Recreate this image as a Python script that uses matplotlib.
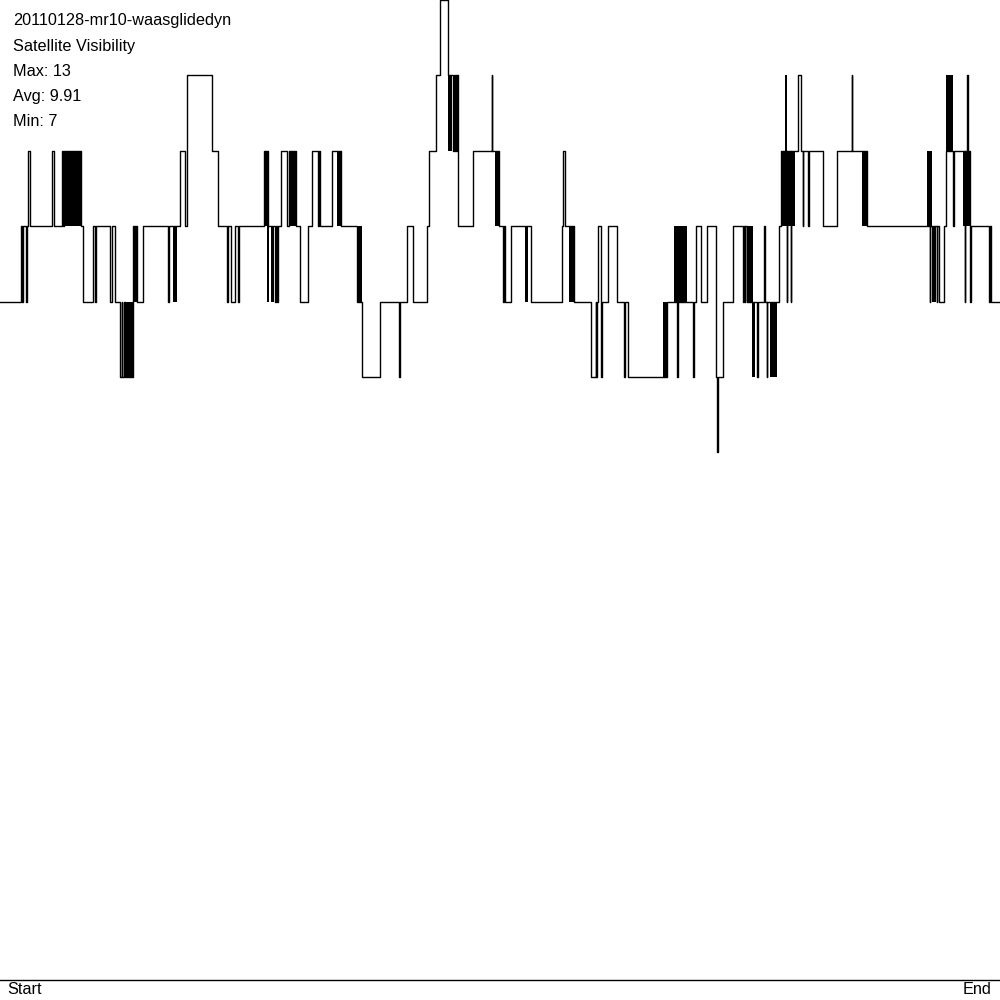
import matplotlib
matplotlib.use("Agg")
import matplotlib.pyplot as plt

# run time in sample units (0 = start, 1000 = end) and satellites visible from that sample on
t = [0, 20.7, 22.0, 22.6, 26.0, 26.7, 28.3, 30.0, 51.7, 54.0,
     62.3, 63.3, 64.3, 81.0, 82.7, 93.3, 95.0, 95.6, 110.0, 112.0,
     115.0, 120.0, 121.7, 122.2, 124.0, 124.5, 133.3, 136.7, 143.3, 168.3,
     168.8, 180.0, 185.0, 186.5, 212.3, 218.3, 226.7, 227.5, 231.0, 235.0,
     237.7, 239.0, 264.3, 267.7, 275.0, 275.5, 277.0, 277.5, 281.0, 287.3,
     289.0, 296.0, 300.0, 308.3, 311.7, 317.7, 319.0, 320.3, 331.7, 340.7,
     357.3, 361.7, 380.0, 399.0, 399.5, 406.7, 413.3, 427.3, 429.3, 436.0,
     440.0, 448.3, 453.3, 453.8, 455.0, 455.5, 456.7, 457.2, 458.3, 473.3,
     491.7, 492.2, 499.0, 503.3, 504.0, 505.3, 511.0, 531.0, 562.3, 563.3,
     565.3, 574.3, 590.7, 595.7, 596.3, 597.0, 598.3, 601.0, 601.3, 601.7,
     608.3, 617.3, 624.3, 624.8, 628.3, 666.7, 677.3, 677.7, 693.3, 693.7,
     696.0, 700.7, 706.7, 716.0, 717.3, 717.7, 723.3, 733.3, 743.3, 743.7,
     745.0, 745.4, 747.3, 757.3, 757.7, 764.3, 764.8, 766.7, 767.2, 779.3,
     780.7, 786.7, 787.1, 791.0, 791.4, 798.3, 800.7, 802.7, 803.1, 808.3,
     808.7, 822.7, 836.7, 851.7, 852.1, 866.7, 930.0, 930.4, 936.7, 937.1,
     939.3, 944.3, 945.7, 953.3, 953.7, 965.0, 965.4, 967.3, 967.7, 970.0,
     970.5, 989.3, 989.8, 991.0, 1000.0]
sats = [9, 10, 9, 10, 9, 10, 11, 10, 11, 10,
        11, 10, 11, 10, 9, 10, 9, 10, 9, 10,
        9, 8, 9, 8, 9, 8, 10, 9, 10, 9,
        10, 11, 10, 12, 11, 10, 9, 10, 9, 10,
        9, 10, 11, 10, 9, 10, 9, 10, 11, 10,
        11, 10, 9, 10, 11, 10, 11, 10, 11, 10,
        9, 8, 9, 8, 9, 10, 9, 10, 11, 12,
        13, 12, 11, 12, 11, 12, 11, 12, 10, 11,
        12, 11, 10, 9, 10, 9, 10, 9, 10, 11,
        10, 9, 8, 9, 8, 9, 10, 9, 8, 9,
        10, 9, 8, 9, 8, 9, 8, 9, 8, 9,
        10, 9, 10, 8, 7, 8, 9, 10, 9, 10,
        9, 10, 9, 8, 9, 10, 9, 8, 9, 10,
        11, 9, 11, 9, 11, 12, 11, 10, 11, 10,
        11, 10, 11, 12, 11, 10, 9, 10, 9, 10,
        9, 10, 11, 10, 11, 9, 11, 12, 11, 9,
        10, 9, 10, 9, 9]

# stretches where the count flickers too fast to separate (start, end, low, high)
flicker_start = [64.3, 125.0, 133.3, 173.3, 264.3, 267.0, 271.0, 290.0, 337.3, 357.3,
                 448.3, 495.0, 525.0, 569.0, 662.7, 674.0, 747.3, 751.7, 770.0, 780.7,
                 785.0, 861.7, 926.7, 932.3, 945.7, 963.3]
flicker_end = [81.0, 133.3, 136.7, 176.7, 267.7, 269.0, 274.0, 296.0, 340.7, 361.7,
               451.7, 499.0, 527.7, 574.3, 666.7, 686.7, 752.7, 755.0, 777.3, 795.0,
               786.7, 866.7, 932.3, 935.7, 953.3, 970.0]
flicker_low = [10, 8, 9, 9, 10, 9, 9, 10, 10, 9,
               11, 10, 9, 9, 8, 9, 9, 8, 8, 10,
               11, 10, 10, 9, 11, 10]
flicker_high = [11, 9, 10, 10, 11, 10, 10, 11, 11, 10,
                12, 11, 10, 10, 9, 10, 10, 9, 9, 11,
                12, 11, 11, 10, 12, 11]

info = ["20110128-mr10-waasglidedyn", "Satellite Visibility",
        "Max: 13", "Avg: 9.91", "Min: 7"]

plt.rcParams['font.family'] = ['Liberation Sans', 'DejaVu Sans']

fig = plt.figure(figsize=(10, 10), dpi=100)
ax = fig.add_axes([0, 0.02, 1, 0.98])

ax.step(t, sats, where="post", color="black", lw=1.0, clip_on=False)
for s, e, lo, hi in zip(flicker_start, flicker_end, flicker_low, flicker_high):
    ax.fill_between([s, e], lo, hi, color="black", lw=0)

ax.set_xlim(0, 1000)
ax.set_ylim(0, 13)
for side in ["top", "left", "right"]:
    ax.spines[side].set_visible(False)
ax.spines["bottom"].set_linewidth(1.0)
ax.set_xticks([])
ax.set_yticks([])

for i, line in enumerate(info):
    fig.text(0.013, 0.979 - i * 0.0251, line, fontsize=11.7, va="center")

fig.text(0.007, 0.010, "Start", fontsize=11.7, va="center")
fig.text(0.992, 0.010, "End", fontsize=11.7, va="center", ha="right")

fig.savefig("out.png", dpi=100, facecolor="white")
